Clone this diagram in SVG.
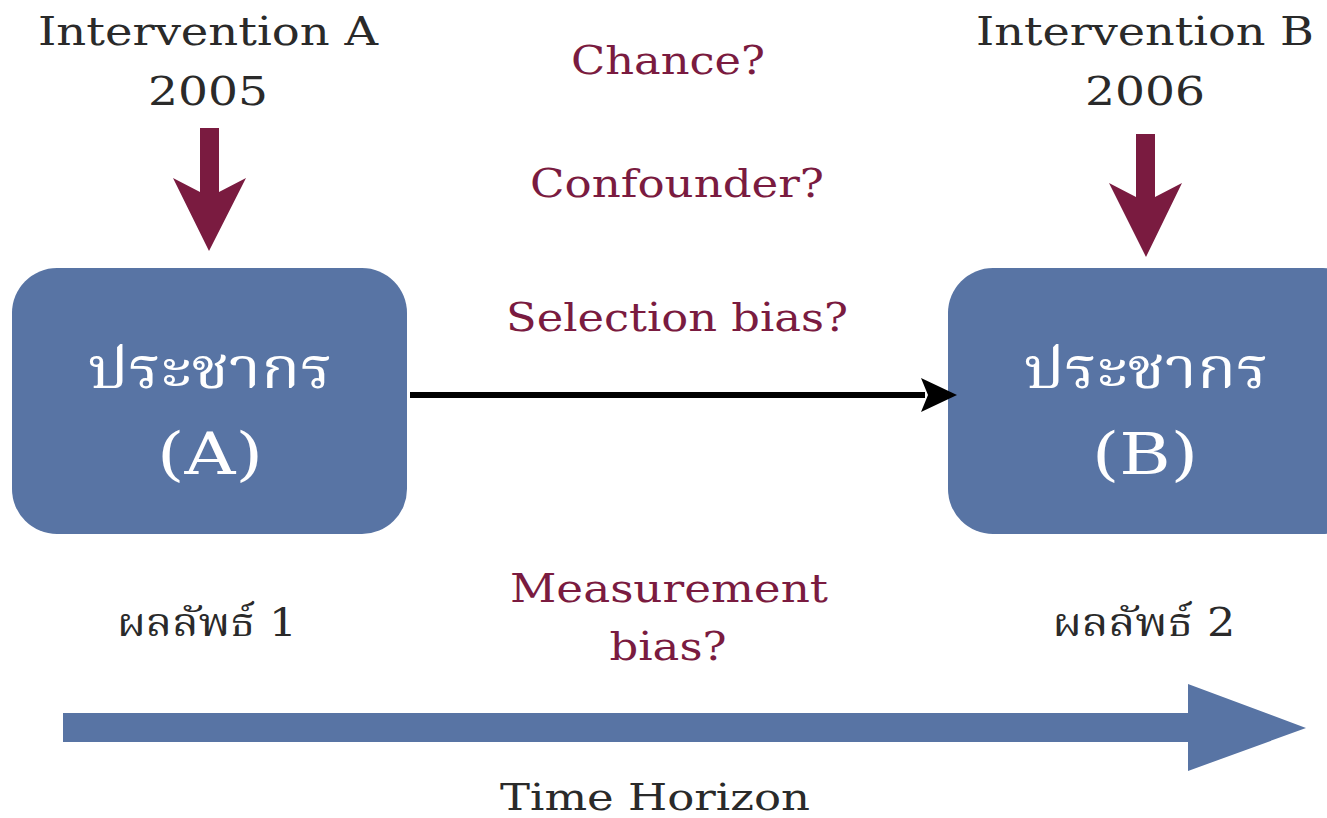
<svg xmlns="http://www.w3.org/2000/svg" width="1327" height="818" viewBox="0 0 1327 818">
<style>
.t{font-family:"DejaVu Serif","Noto Serif Thai","Noto Sans Thai","Noto Sans",serif;text-anchor:middle}
.dark{fill:#2a2a2a;font-size:40px}
.red{fill:#7a1b40;font-size:40px}
.box{fill:#5874a4}
.w{fill:#ffffff;font-size:58px}
.mar{fill:#7a1b40}
</style>
<rect width="1327" height="818" fill="#fff"/>
<g id="intervA">
<text class="t dark" x="208" y="45" textLength="340" lengthAdjust="spacingAndGlyphs">Intervention A</text>
<text class="t dark" x="208" y="105" textLength="120" lengthAdjust="spacingAndGlyphs">2005</text>
<path class="mar" d="M200,128 H219 V192 L246,178 L209,251 L173,178 L200,192 Z"/>
</g>
<g id="intervB">
<text class="t dark" x="1145" y="45" textLength="338" lengthAdjust="spacingAndGlyphs">Intervention B</text>
<text class="t dark" x="1145" y="105" textLength="120" lengthAdjust="spacingAndGlyphs">2006</text>
<path class="mar" d="M1136,134 H1155 V197 L1182,183 L1146,257 L1109,183 L1136,197 Z"/>
</g>
<g id="popA">
<rect class="box" x="12" y="268" width="395" height="266" rx="45"/>
<text class="t w" x="210" y="388" textLength="245" lengthAdjust="spacingAndGlyphs">ประชากร</text>
<text class="t w" x="210" y="474" textLength="106" lengthAdjust="spacingAndGlyphs">(A)</text>
</g>
<g id="popB">
<rect class="box" x="948" y="268" width="420" height="266" rx="45"/>
<text class="t w" x="1146" y="388" textLength="245" lengthAdjust="spacingAndGlyphs">ประชากร</text>
<text class="t w" x="1145" y="474" textLength="106" lengthAdjust="spacingAndGlyphs">(B)</text>
</g>
<g id="labels">
<text class="t red" x="668" y="74" textLength="194" lengthAdjust="spacingAndGlyphs">Chance?</text>
<text class="t red" x="677" y="197" textLength="294" lengthAdjust="spacingAndGlyphs">Confounder?</text>
<text class="t red" x="677" y="331" textLength="342" lengthAdjust="spacingAndGlyphs">Selection bias?</text>
<text class="t red" x="669" y="602" textLength="318" lengthAdjust="spacingAndGlyphs">Measurement</text>
<text class="t red" x="668" y="660" textLength="117" lengthAdjust="spacingAndGlyphs">bias?</text>
<text class="t dark" x="207" y="636" textLength="180" lengthAdjust="spacingAndGlyphs">ผลลัพธ์ 1</text>
<text class="t dark" x="1144" y="636" textLength="183" lengthAdjust="spacingAndGlyphs">ผลลัพธ์ 2</text>
<text class="t dark" x="655" y="810" style="font-size:38px" textLength="310" lengthAdjust="spacingAndGlyphs">Time Horizon</text>
</g>
<g id="connectors">
<line x1="410" y1="395" x2="925" y2="395" stroke="#000" stroke-width="6"/>
<path d="M957,395 L921,378 L928,395 L921,412 Z" fill="#000"/>
<path d="M63,713 H1188 V684 L1306,728 L1188,771 V742 H63 Z" class="box"/>
</g>
</svg>
